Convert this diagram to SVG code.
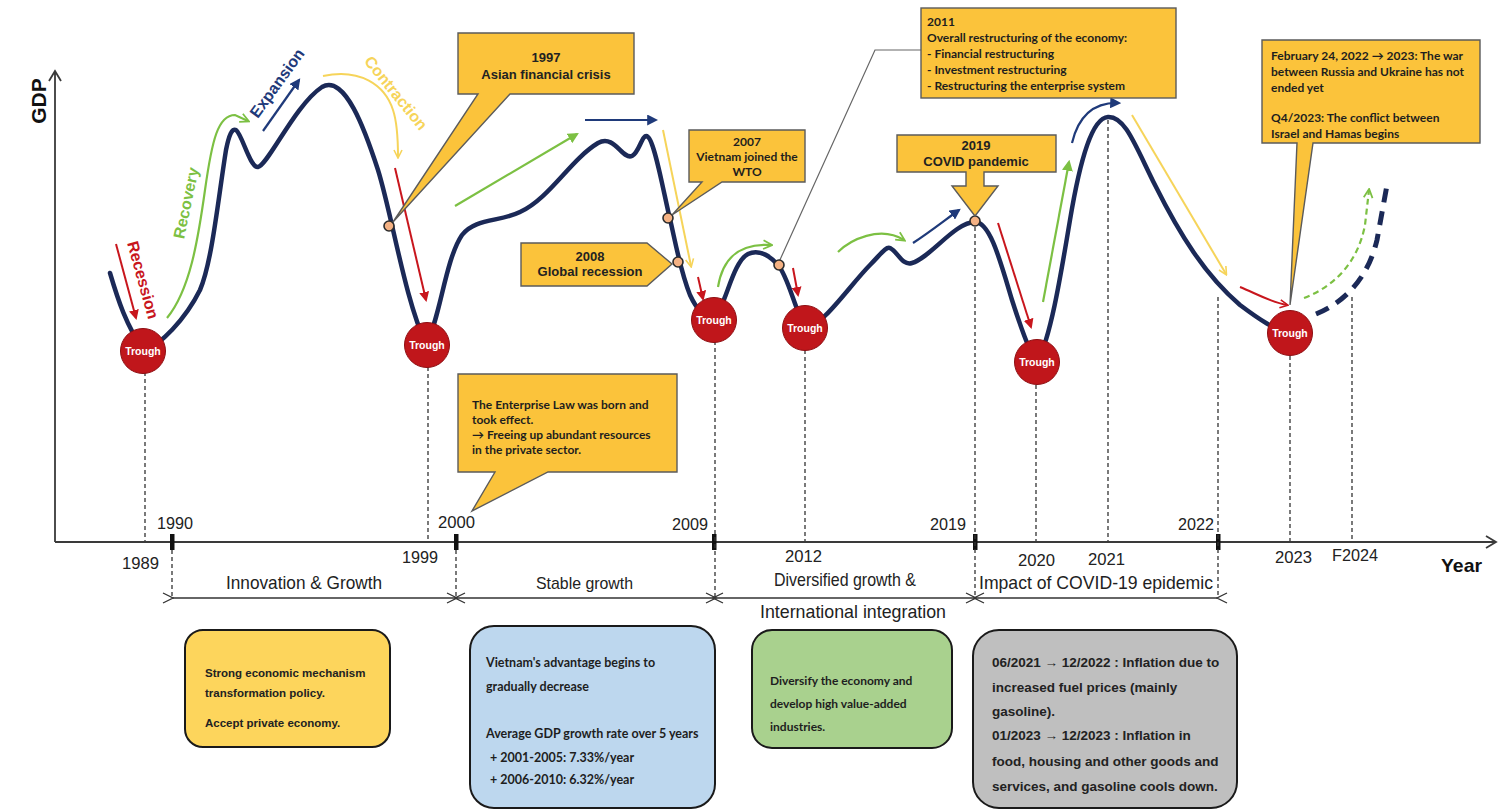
<svg xmlns="http://www.w3.org/2000/svg" width="1500" height="812" viewBox="0 0 1500 812">
<style>
.bg{fill:#ffffff}
.axis{stroke:#3a3a3a;stroke-width:1.8;fill:none}
.tick{fill:#111}
.dash{stroke:#333;stroke-width:1.3;stroke-dasharray:4 3;fill:none}
.curve{stroke:#1b2957;stroke-width:4.5;fill:none;stroke-linecap:round;stroke-linejoin:round}
.curvedash{stroke:#1b2957;stroke-width:5;fill:none;stroke-dasharray:14 9}
.red{stroke:#c8161d;stroke-width:2;fill:none}
.navy{stroke:#1f3a7a;stroke-width:2.2;fill:none}
.green{stroke:#7cc043;stroke-width:2.2;fill:none}
.yellow{stroke:#f6d45a;stroke-width:2;fill:none}
.call{fill:#fbc33b;stroke:#5b5b5b;stroke-width:1.4}
.conn{stroke:#666;stroke-width:1.2;fill:none}
.dot{fill:#f4b183;stroke:#2b2b2b;stroke-width:1.6}
.trough{fill:#c0161b;stroke:#8e0e12;stroke-width:1}
.tt{font-family:"Liberation Sans",Arial,sans-serif;font-weight:bold;font-size:10.5px;fill:#fff;text-anchor:middle}
.nar{font-family:"Liberation Sans Narrow","Liberation Sans",Arial,sans-serif;font-size:17px;fill:#222}
.ab{font-family:"Liberation Sans",Arial,sans-serif;font-weight:bold;font-size:13px;fill:#222;text-anchor:middle}
.cb{font-family:Lato,"Liberation Sans",sans-serif;font-weight:bold;font-size:12px;fill:#1e1e1e}
.bx{font-family:"Liberation Sans",Arial,sans-serif;font-weight:bold;font-size:11.5px;fill:#222}
.per{stroke:#333;stroke-width:1.4;fill:none}
.box{stroke:#1a1a1a;stroke-width:2}
</style>
<defs>
<marker id="mRed" viewBox="0 0 10 10" refX="8" refY="5" markerWidth="5" markerHeight="5" orient="auto"><path d="M0,0 L10,5 L0,10 z" fill="#c8161d"/></marker>
<marker id="mNavy" viewBox="0 0 10 10" refX="8" refY="5" markerWidth="5" markerHeight="5" orient="auto"><path d="M0,0 L10,5 L0,10 z" fill="#1f3a7a"/></marker>
<marker id="mGreen" viewBox="0 0 10 10" refX="8" refY="5" markerWidth="5" markerHeight="5" orient="auto"><path d="M0,0 L10,5 L0,10 z" fill="#7cc043"/></marker>
<marker id="cGreen" viewBox="0 0 10 10" refX="8" refY="5" markerWidth="5" markerHeight="5" orient="auto"><path d="M1,1 L9,5 L1,9" fill="none" stroke="#7cc043" stroke-width="1.6"/></marker>
<marker id="cYellow" viewBox="0 0 10 10" refX="8" refY="5" markerWidth="5" markerHeight="5" orient="auto"><path d="M1,1 L9,5 L1,9" fill="none" stroke="#f6d45a" stroke-width="1.6"/></marker>
<marker id="cRed" viewBox="0 0 10 10" refX="8" refY="5" markerWidth="5" markerHeight="5" orient="auto"><path d="M1,1 L9,5 L1,9" fill="none" stroke="#c8161d" stroke-width="1.6"/></marker>
<marker id="per" viewBox="0 0 12 12" refX="1" refY="6" markerWidth="12" markerHeight="12" markerUnits="userSpaceOnUse" orient="auto-start-reverse"><path d="M11,1 L1,6 L11,11" fill="none" stroke="#333" stroke-width="1.3"/></marker>
</defs>
<rect class="bg" x="0" y="0" width="1500" height="812"/>

<g id="axes">
<path class="axis" d="M55,542 V71 M49,81 L55,71 L61,81"/>
<path class="axis" d="M55,542 H1496 M1486,536 L1496,542 L1486,548"/>
<text x="38" y="101" transform="rotate(-90 38 101)" text-anchor="middle" dominant-baseline="central" style="font-family:'Liberation Sans',Arial,sans-serif;font-weight:bold;font-size:21px;fill:#111">GDP</text>
<text class="nar" x="1441" y="572" textLength="41" lengthAdjust="spacingAndGlyphs" style="font-weight:bold;font-size:19px;fill:#111">Year</text>
<rect class="tick" x="170" y="534" width="4.5" height="16"/>
<rect class="tick" x="454" y="534" width="4.5" height="16"/>
<rect class="tick" x="712" y="534" width="4.5" height="16"/>
<rect class="tick" x="973" y="534" width="4.5" height="16"/>
<rect class="tick" x="1216" y="534" width="4.5" height="16"/>
<text class="nar" x="157" y="529" textLength="36" lengthAdjust="spacingAndGlyphs">1990</text>
<text class="nar" x="438" y="528" textLength="37" lengthAdjust="spacingAndGlyphs">2000</text>
<text class="nar" x="672" y="530" textLength="36" lengthAdjust="spacingAndGlyphs">2009</text>
<text class="nar" x="930" y="530" textLength="36" lengthAdjust="spacingAndGlyphs">2019</text>
<text class="nar" x="1178" y="530" textLength="36" lengthAdjust="spacingAndGlyphs">2022</text>
<text class="nar" x="122" y="569" textLength="37" lengthAdjust="spacingAndGlyphs">1989</text>
<text class="nar" x="402" y="563" textLength="36" lengthAdjust="spacingAndGlyphs">1999</text>
<text class="nar" x="785" y="562" textLength="37" lengthAdjust="spacingAndGlyphs">2012</text>
<text class="nar" x="1018" y="566" textLength="37" lengthAdjust="spacingAndGlyphs">2020</text>
<text class="nar" x="1088" y="565" textLength="37" lengthAdjust="spacingAndGlyphs">2021</text>
<text class="nar" x="1275" y="563" textLength="37" lengthAdjust="spacingAndGlyphs">2023</text>
<text class="nar" x="1332" y="561" textLength="46" lengthAdjust="spacingAndGlyphs">F2024</text>
</g>

<g id="guides">
<path class="dash" d="M145,372 V541"/>
<path class="dash" d="M428,367 V541"/>
<path class="dash" d="M172,550 V598"/>
<path class="dash" d="M456,550 V598"/>
<path class="dash" d="M715,341 V598"/>
<path class="dash" d="M805,350 V541"/>
<path class="dash" d="M975,227 V598"/>
<path class="dash" d="M1036,385 V541"/>
<path class="dash" d="M1108,120 V541"/>
<path class="dash" d="M1218,297 V598"/>
<path class="dash" d="M1290,356 V541"/>
<path class="dash" d="M1352,297 V541"/>
</g>

<g id="periods">
<path class="per" d="M173,598 H455" marker-start="url(#per)" marker-end="url(#per)"/>
<path class="per" d="M457,598 H713" marker-start="url(#per)" marker-end="url(#per)"/>
<path class="per" d="M716,598 H974" marker-start="url(#per)" marker-end="url(#per)"/>
<path class="per" d="M976,598 H1217" marker-start="url(#per)" marker-end="url(#per)"/>
<text class="nar" x="226" y="589" textLength="156" lengthAdjust="spacingAndGlyphs" style="font-size:19px">Innovation &amp; Growth</text>
<text class="nar" x="536" y="589" textLength="97" lengthAdjust="spacingAndGlyphs" style="font-size:17px">Stable growth</text>
<text class="nar" x="774" y="586" textLength="142" lengthAdjust="spacingAndGlyphs" style="font-size:19px">Diversified growth &amp;</text>
<text class="nar" x="760" y="618" textLength="186" lengthAdjust="spacingAndGlyphs" style="font-size:19px">International integration</text>
<text class="nar" x="979" y="589" textLength="234" lengthAdjust="spacingAndGlyphs" style="font-size:19px">Impact of COVID-19 epidemic</text>
</g>

<g id="connectors">
<path class="curve" d="M110,273 C118,300 126,325 144,351 C160,345 185,320 200,290 C212,262 218,200 226,150 C229,135 232,128 236,130 C242,134 250,168 258,167 C268,165 295,105 322,87 C345,74 365,130 378,170 C392,215 405,300 426,344 C440,320 445,260 462,235 C475,218 500,222 520,212 C550,198 570,160 598,143 C615,134 622,160 632,156 C640,152 642,132 648,137 C655,142 665,200 670,219 C675,240 680,270 690,295 C697,310 705,318 713,319 C725,310 732,262 748,254 C760,248 772,258 778,265 C788,276 795,310 805,327 C820,330 850,285 870,265 C880,255 886,246 890,248 C898,252 902,266 912,263 C930,258 955,222 975,222 C990,222 1000,260 1012,300 C1020,325 1030,355 1037,362 C1050,340 1060,280 1070,220 C1080,160 1092,118 1108,117 C1125,116 1135,145 1155,185 C1180,235 1205,275 1240,305 C1260,320 1275,330 1290,333"/>
<path class="curvedash" d="M1316,314 C1345,302 1368,278 1377,240 L1387,185"/>
<path class="green" d="M1304,298 C1335,286 1358,262 1365,225 L1369,190" stroke-dasharray="6 4" marker-end="url(#cGreen)"/>
<path class="red" d="M116,244 L136,318" marker-end="url(#mRed)"/>
<path class="green" d="M167,318 C190,290 198,240 205,190 C212,140 218,115 235,115 L248,121" marker-end="url(#cGreen)"/>
<path class="navy" d="M263,131 L299,80" marker-end="url(#mNavy)"/>
<path class="yellow" d="M323,76 C360,68 385,85 393,110 C398,125 398,145 398,157" marker-end="url(#cYellow)"/>
<path class="red" d="M395,168 L426,300" marker-end="url(#mRed)"/>
<path class="green" d="M455,206 L577,134" marker-end="url(#mGreen)"/>
<path class="navy" d="M585,120 L656,120" marker-end="url(#mNavy)"/>
<path class="yellow" d="M663,130 L691,266" marker-end="url(#cYellow)"/>
<path class="red" d="M698,277 L703,299" marker-end="url(#mRed)"/>
<path class="green" d="M718,287 C722,262 735,243 771,245" marker-end="url(#cGreen)"/>
<path class="red" d="M793,268 L798,295" marker-end="url(#mRed)"/>
<path class="green" d="M838,252 C850,240 880,225 904,240" marker-end="url(#cGreen)"/>
<path class="navy" d="M913,243 C930,232 945,220 959,210" marker-end="url(#mNavy)"/>
<path class="red" d="M998,223 L1031,327" marker-end="url(#mRed)"/>
<path class="green" d="M1043,302 L1069,162" marker-end="url(#mGreen)"/>
<path class="navy" d="M1072,143 C1078,118 1092,102 1119,103" marker-end="url(#mNavy)"/>
<path class="yellow" d="M1132,115 L1226,274" marker-end="url(#cYellow)"/>
<path class="red" d="M1240,287 C1255,293 1270,302 1287,305" marker-end="url(#cRed)"/>
<path class="conn" d="M921,50 H875 L779,262"/>
<path class="conn" d="M393,222 L389,226"/>
<path class="conn" d="M672,215 L668,218"/>
</g>

<g id="phase-labels" style="font-family:'Liberation Sans',Arial,sans-serif;font-weight:bold;font-size:16px">
<text x="143" y="280" transform="rotate(74.5 143 280)" text-anchor="middle" dominant-baseline="central" fill="#c8161d">Recession</text>
<text x="186" y="203" transform="rotate(-78 186 203)" text-anchor="middle" dominant-baseline="central" fill="#7cc043">Recovery</text>
<text x="277" y="83" transform="rotate(-54 277 83)" text-anchor="middle" dominant-baseline="central" fill="#1f3a7a">Expansion</text>
<text x="396" y="93" transform="rotate(51 396 93)" text-anchor="middle" dominant-baseline="central" fill="#f6d45a">Contraction</text>
</g>

<g id="dots">
<circle class="dot" cx="389" cy="226" r="5"/>
<circle class="dot" cx="668" cy="218" r="5"/>
<circle class="dot" cx="678" cy="262" r="5"/>
<circle class="dot" cx="779" cy="265" r="5"/>
<circle class="dot" cx="975" cy="221" r="5"/>
</g>

<g id="trough-1989"><circle class="trough" cx="143" cy="351" r="22.5"/><text class="tt" x="143" y="355">Trough</text></g>
<g id="trough-1999"><circle class="trough" cx="427" cy="345" r="22.5"/><text class="tt" x="427" y="349">Trough</text></g>
<g id="trough-2009"><circle class="trough" cx="714" cy="320" r="22.5"/><text class="tt" x="714" y="324">Trough</text></g>
<g id="trough-2012"><circle class="trough" cx="805" cy="328" r="22.5"/><text class="tt" x="805" y="332">Trough</text></g>
<g id="trough-2020"><circle class="trough" cx="1037" cy="362" r="22.5"/><text class="tt" x="1037" y="366">Trough</text></g>
<g id="trough-2023"><circle class="trough" cx="1290" cy="333" r="22.5"/><text class="tt" x="1290" y="337">Trough</text></g>

<g id="callout-1997">
<path class="call" d="M458,33 H634 V94 H510 L393,222 L478,94 H458 Z"/>
<text class="ab" x="546" y="62">1997</text>
<text class="ab" x="546" y="79">Asian financial crisis</text>
</g>
<g id="callout-2007">
<path class="call" d="M689,130 H805 V182 H722 L672,215 L702,182 H689 Z"/>
<text class="cb" x="747" y="146" text-anchor="middle">2007</text>
<text class="cb" x="747" y="161" text-anchor="middle">Vietnam joined the</text>
<text class="cb" x="747" y="176" text-anchor="middle">WTO</text>
</g>
<g id="callout-2008">
<path class="call" d="M521,243 H647 L672,264 L647,286 H521 Z"/>
<text class="ab" x="590" y="261">2008</text>
<text class="ab" x="590" y="276">Global recession</text>
</g>
<g id="callout-2011">
<rect class="call" x="921" y="8" width="255" height="90"/>
<text class="cb" x="927" y="26">2011</text>
<text class="cb" x="927" y="42">Overall restructuring of the economy:</text>
<text class="cb" x="927" y="58">- Financial restructuring</text>
<text class="cb" x="927" y="74">- Investment restructuring</text>
<text class="cb" x="927" y="90">- Restructuring the enterprise system</text>
</g>
<g id="callout-2019">
<path class="call" d="M897,135 H1056 V172 H984 V186 H998 L975,216 L952,186 H966 V172 H897 Z"/>
<text class="ab" x="976" y="150">2019</text>
<text class="ab" x="976" y="166">COVID pandemic</text>
</g>
<g id="callout-2022">
<path class="call" d="M1262,40 H1480 V143 H1313 L1290,305 L1297,143 H1262 Z"/>
<text class="cb" x="1271" y="60">February 24, 2022 → 2023: The war</text>
<text class="cb" x="1271" y="76">between Russia and Ukraine has not</text>
<text class="cb" x="1271" y="92">ended yet</text>
<text class="cb" x="1271" y="122">Q4/2023: The conflict between</text>
<text class="cb" x="1271" y="138">Israel and Hamas begins</text>
</g>
<g id="callout-2000">
<path class="call" d="M458,374 H677 V472 H548 L472,511 L495,472 H458 Z"/>
<text class="cb" x="472" y="409">The Enterprise Law was born and</text>
<text class="cb" x="472" y="424">took effect.</text>
<text class="cb" x="472" y="439">→ Freeing up abundant resources</text>
<text class="cb" x="472" y="454">in the private sector.</text>
</g>

<g id="box-innovation">
<rect class="box" x="185" y="630" width="205" height="117" rx="18" fill="#fdd55c"/>
<text class="bx" x="205" y="677">Strong economic mechanism</text>
<text class="bx" x="205" y="697">transformation policy.</text>
<text class="bx" x="205" y="727">Accept private economy.</text>
</g>
<g id="box-stable">
<rect class="box" x="470" y="626" width="245" height="182" rx="24" fill="#bdd7ee"/>
<text class="cb" x="486" y="667" style="font-size:12.5px">Vietnam's advantage begins to</text>
<text class="cb" x="486" y="691" style="font-size:12.5px">gradually decrease</text>
<text class="cb" x="486" y="738" style="font-size:12.5px">Average GDP growth rate over 5 years</text>
<text class="cb" x="490" y="762" style="font-size:12.5px">+ 2001-2005: 7.33%/year</text>
<text class="cb" x="490" y="784" style="font-size:12.5px">+ 2006-2010: 6.32%/year</text>
</g>
<g id="box-diversified">
<rect class="box" x="752" y="630" width="200" height="118" rx="20" fill="#a9d18e"/>
<text class="cb" x="770" y="685">Diversify the economy and</text>
<text class="cb" x="770" y="708">develop high value-added</text>
<text class="cb" x="770" y="731">industries.</text>
</g>
<g id="box-covid">
<rect class="box" x="973" y="630" width="264" height="178" rx="26" fill="#bfbfbf"/>
<text class="bx" x="992" y="667" style="font-size:13.5px">06/2021 → 12/2022 : Inflation due to</text>
<text class="bx" x="992" y="692" style="font-size:13.5px">increased fuel prices (mainly</text>
<text class="bx" x="992" y="716" style="font-size:13.5px">gasoline).</text>
<text class="bx" x="992" y="740" style="font-size:13.5px">01/2023 → 12/2023 : Inflation in</text>
<text class="bx" x="992" y="766" style="font-size:13.5px">food, housing and other goods and</text>
<text class="bx" x="992" y="791" style="font-size:13.5px">services, and gasoline cools down.</text>
</g>
</svg>
